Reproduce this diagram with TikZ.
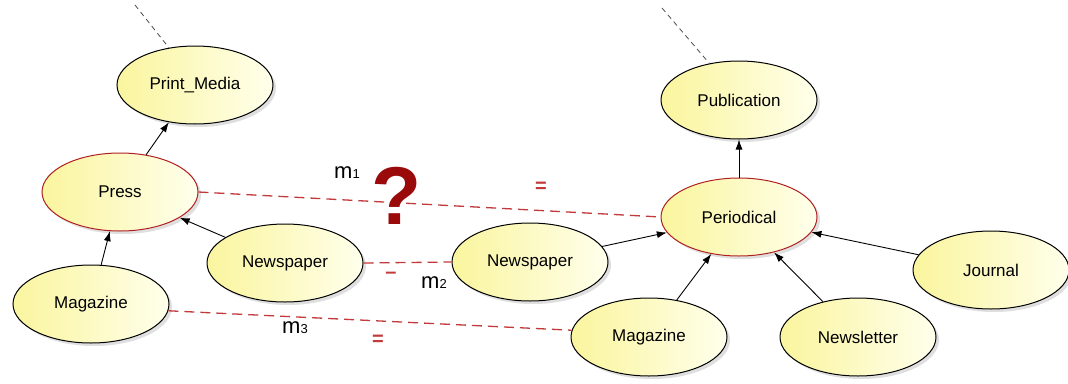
\documentclass[tikz,border=0pt]{standalone}
\usepackage{fontspec}
\setmainfont{Liberation Sans}
\usetikzlibrary{shapes.geometric,arrows.meta,shadows}
\definecolor{dred}{HTML}{B02020}
\definecolor{lred}{HTML}{C23A3A}
\definecolor{qred}{HTML}{9A0A0A}
\definecolor{ylo}{HTML}{FAF59E}
\definecolor{yhi}{HTML}{FFFFEC}
\begin{document}
\begin{tikzpicture}[x=1pt,y=-1pt,
  concept/.style={ellipse, draw=black, line width=1pt, minimum width=156pt, minimum height=78pt,
    inner sep=0pt, left color=ylo, right color=yhi,
    drop shadow={shadow xshift=3pt, shadow yshift=-3pt, opacity=0.25},
    font=\fontsize{17}{20}\selectfont},
  keyc/.style={concept, draw=dred},
  isa/.style={-{Latex[length=10pt,width=7pt]}, line width=0.9pt},
  map/.style={draw=lred, dash pattern=on 10pt off 6pt, line width=1.3pt},
  up/.style={draw=gray!60!black, dash pattern=on 5pt off 4pt, line width=0.8pt},
  mlab/.style={font=\fontsize{22}{24}\selectfont},
  eqlab/.style={text=lred, font=\fontsize{20}{22}\selectfont\bfseries},
]
\useasboundingbox (0,0) rectangle (1068,383);
% left ontology
\node[concept] (pm) at (195,85) {Print\_Media};
\node[keyc] (press) at (120,192) {Press};
\node[concept] (npL) at (285,263) {Newspaper};
\node[concept] (mgL) at (91,304) {Magazine};
% right ontology
\node[concept] (pub) at (739,100) {Publication};
\node[keyc] (per) at (739,217) {Periodical};
\node[concept] (npR) at (530,262) {Newspaper};
\node[concept] (mgR) at (649,337) {Magazine};
\node[concept] (nl) at (858,337) {Newsletter};
\node[concept] (jr) at (991,270) {Journal};
% upward dashed lines
\coordinate (topL) at (135,5);
\coordinate (topR) at (662,8);
\draw[up] (topL) -- (pm.125);
\draw[up] (topR) -- (pub.129);
% is-a arrows
\draw[isa] (press) -- (pm);
\draw[isa] (mgL) -- (press);
\draw[isa] (npL) -- (press);
\draw[isa] (per) -- (pub);
\draw[isa] (npR) -- (per);
\draw[isa] (mgR) -- (per);
\draw[isa] (nl) -- (per);
\draw[isa] (jr) -- (per);
% mappings
\draw[map] (press.east) -- (per.west);
\draw[map] (npL.east) -- (npR.west);
\draw[map] (mgL.-5) -- (mgR.175);
% labels
\node[mlab] (m1) at (347,173) {m{\fontsize{13}{14}\selectfont 1}};
\node[mlab] (m2) at (434,283) {m{\fontsize{13}{14}\selectfont 2}};
\node[mlab] (m3) at (295,328) {m{\fontsize{13}{14}\selectfont 3}};
\node[text=qred, font=\fontsize{82}{84}\selectfont\bfseries] (q) at (397,196) {?};
\node[eqlab] (e1) at (541,187) {=};
\node[eqlab] (e2) at (391,275) {–};
\node[eqlab] (e3) at (378,340) {=};
\end{tikzpicture}
\end{document}
